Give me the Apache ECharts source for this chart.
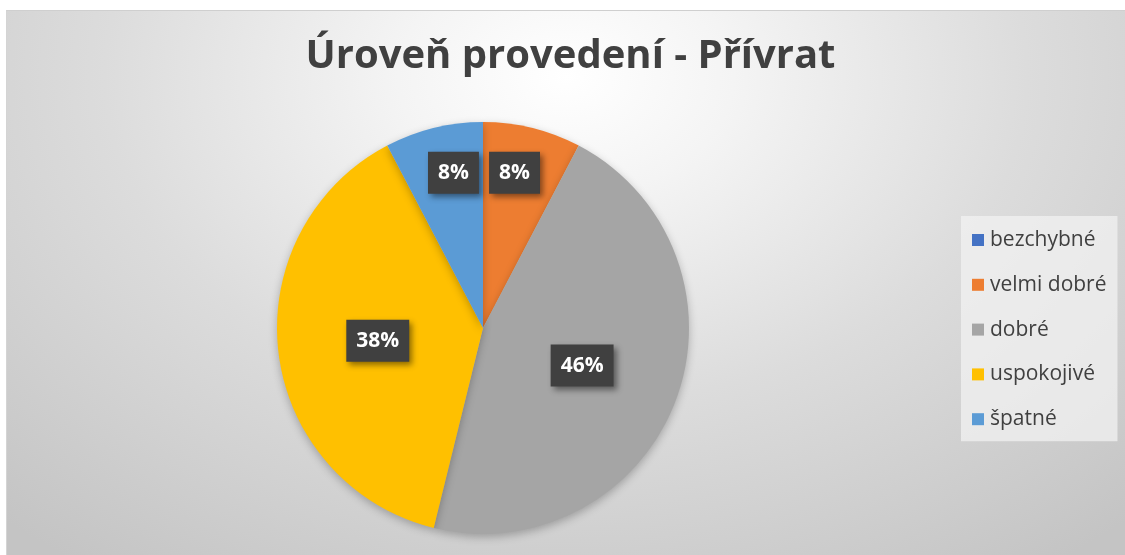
<!DOCTYPE html>
<html>
<head>
<meta charset="utf-8">
<script src="https://cdn.jsdelivr.net/npm/echarts@6/dist/echarts.min.js"></script>
<style>
html,body{margin:0;padding:0;background:#ffffff;width:1125px;height:555px;overflow:hidden;position:relative;}
#bg{position:absolute;left:6px;top:10px;right:0;bottom:0;
  border-top:1px solid #cfcfcf;border-left:1px solid #d4d4d4;
  background:radial-gradient(ellipse 75% 110% at 50% 12%, #ffffff 0%, #f4f4f4 20%, #dcdcdc 55%, #c4c4c4 100%);}
#chart{position:absolute;left:0;top:0;width:1141px;height:555px;}
</style>
</head>
<body>
<div id="bg"></div>
<div id="chart"></div>
<script>
const titleText = 'Úroveň provedení - Přívrat';
const categories = ['bezchybné', 'velmi dobré', 'dobré', 'uspokojivé', 'špatné'];
const values = [0, 1, 6, 5, 1];
const colors = ['#4472C4', '#ED7D31', '#A5A5A5', '#FFC000', '#5B9BD5'];
// slices whose data label sits further out (Excel best-fit placement)
const outerLabelSlices = ['velmi dobré', 'špatné'];

const total = values.reduce((a, b) => a + b, 0);
const pct = v => Math.round(v / total * 100) + '%';
const FONT = '"Open Sans", Lato, sans-serif';

const labelBox = {
  show: true,
  position: 'inside',
  formatter: p => pct(p.value),
  color: '#ffffff',
  fontFamily: FONT,
  fontWeight: 'bold',
  fontSize: 21,
  backgroundColor: '#404040',
  padding: [11, 10, 10, 10],
  shadowColor: 'rgba(0,0,0,0.45)',
  shadowBlur: 6,
  shadowOffsetX: 3,
  shadowOffsetY: 3
};

const mainData = categories.map((c, i) => ({
  name: c,
  value: values[i],
  itemStyle: { color: colors[i] },
  label: { show: values[i] > 0 && outerLabelSlices.indexOf(c) < 0 }
}));
const overlayData = categories.map((c, i) => {
  const outer = outerLabelSlices.indexOf(c) >= 0;
  const nudge = i < 3 ? -7 : 9; // nudge toward the vertical centre line
  return {
    name: c,
    value: values[i],
    itemStyle: { color: 'rgba(0,0,0,0)' },
    label: { show: values[i] > 0 && outer, offset: [nudge, 1] }
  };
});

const chart = echarts.init(document.getElementById('chart'), null, { renderer: 'canvas' });
chart.setOption({
  backgroundColor: 'transparent',
  animation: false,
  color: colors,
  title: {
    text: titleText,
    left: 'center',
    top: 37,
    padding: 0,
    textStyle: {
      fontFamily: FONT,
      fontWeight: 'bold',
      fontSize: 40,
      color: '#404040'
    }
  },
  legend: {
    orient: 'vertical',
    left: 961,
    top: 216,
    data: categories,
    icon: 'rect',
    itemWidth: 12,
    itemHeight: 12,
    itemGap: 22.8,
    padding: [13, 11, 11, 11],
    backgroundColor: 'rgba(242,242,242,0.75)',
    selectedMode: false,
    textStyle: {
      fontFamily: FONT,
      fontSize: 21,
      lineHeight: 22,
      color: '#404040',
      padding: [0, 0, 0, 1]
    }
  },
  series: [
    {
      type: 'pie',
      center: [483, 328],
      radius: [0, 206],
      startAngle: 90,
      clockwise: true,
      silent: true,
      data: mainData,
      itemStyle: {
        borderWidth: 0,
        shadowColor: 'rgba(0,0,0,0.25)',
        shadowBlur: 8,
        shadowOffsetY: 3
      },
      label: labelBox,
      labelLine: { show: false },
      emphasis: { disabled: true }
    },
    {
      type: 'pie',
      center: [483, 328],
      radius: [110, 206],
      startAngle: 90,
      clockwise: true,
      silent: true,
      data: overlayData,
      itemStyle: { borderWidth: 0 },
      label: labelBox,
      labelLine: { show: false },
      emphasis: { disabled: true }
    }
  ]
});
</script>
</body>
</html>
